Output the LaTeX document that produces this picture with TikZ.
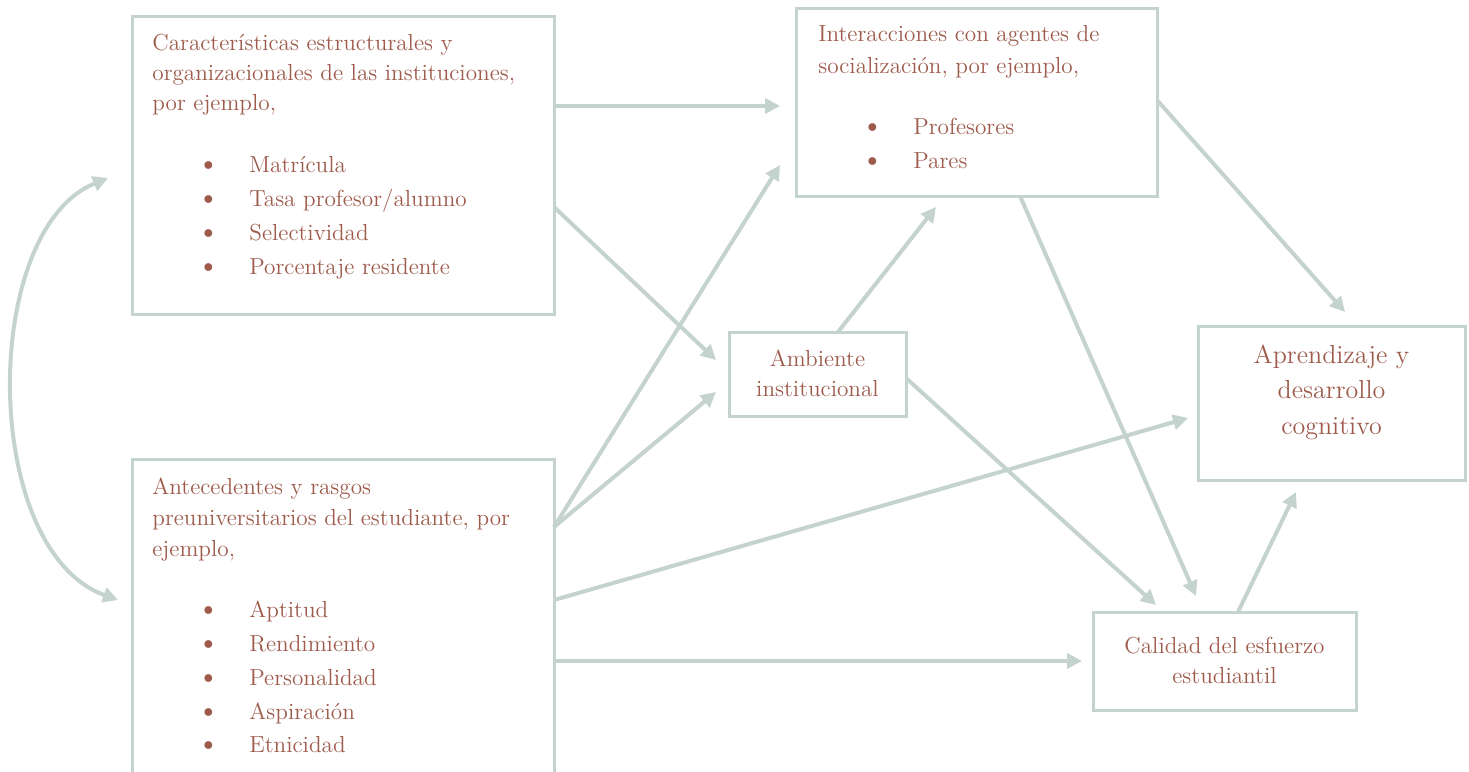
\documentclass[tikz,border=0pt]{standalone}
\usepackage{fontspec}
\usetikzlibrary{arrows.meta,calc}
\definecolor{edgec}{HTML}{C4D3CE}
\definecolor{txtc}{HTML}{9E5B4C}
\tikzset{
  box/.style={draw=edgec,line width=1.5pt,fill=white,inner sep=0pt,outer sep=0pt},
  txt/.style={text=txtc,inner sep=0pt,anchor=base west,font=\fontsize{11.6}{13}\selectfont},
  ctxt/.style={text=txtc,inner sep=0pt,anchor=base,font=\fontsize{11.6}{13}\selectfont},
  bigtxt/.style={text=txtc,inner sep=0pt,anchor=base,font=\fontsize{13}{15}\selectfont},
  arr/.style={draw=edgec,line width=2pt,-{Triangle[length=7.5pt,width=7.5pt]}},
  darr/.style={draw=edgec,line width=2pt,{Triangle[length=7.5pt,width=7.5pt]}-{Triangle[length=7.5pt,width=7.5pt]}}
}
\newcommand{\bul}{\makebox[26pt][l]{\scalebox{1.25}{\textbullet}}}
\begin{document}
\begin{tikzpicture}[x=0.5pt,y=-0.5pt]
\useasboundingbox (0,0) rectangle (1469,772);
% boxes
\node[box,minimum width=211pt,minimum height=149pt] (b1) at (343,165) {};
\node[box,minimum width=211pt,minimum height=170.5pt] (b2) at (343,629.5) {};
\node[box,minimum width=180.5pt,minimum height=94pt] (b3) at (976.5,102) {};
\node[box,minimum width=88.5pt,minimum height=42pt] (b4) at (817.5,374) {};
\node[box,minimum width=133.5pt,minimum height=77pt] (b5) at (1331.5,403) {};
\node[box,minimum width=131.5pt,minimum height=49pt] (b6) at (1224.5,661) {};
% texts box 1
\node[txt] (t11) at (152,50) {Características estructurales y};
\node[txt] (t12) at (152,80) {organizacionales de las instituciones,};
\node[txt] (t13) at (152,110) {por ejemplo,};
\node[txt] (t14) at (197,172) {\bul Matrícula};
\node[txt] (t15) at (197,206) {\bul Tasa profesor/alumno};
\node[txt] (t16) at (197,240) {\bul Selectividad};
\node[txt] (t17) at (197,274) {\bul Porcentaje residente};
% texts box 2
\node[txt] (t21) at (152,494) {Antecedentes y rasgos};
\node[txt] (t22) at (152,525) {preuniversitarios del estudiante, por};
\node[txt] (t23) at (152,556) {ejemplo,};
\node[txt] (t24) at (197,617) {\bul Aptitud};
\node[txt] (t25) at (197,651) {\bul Rendimiento};
\node[txt] (t26) at (197,685) {\bul Personalidad};
\node[txt] (t27) at (197,719) {\bul Aspiración};
\node[txt] (t28) at (197,752) {\bul Etnicidad};
% texts box 3
\node[txt] (t31) at (818,41) {Interacciones con agentes de};
\node[txt] (t32) at (818,73) {socialización, por ejemplo,};
\node[txt] (t33) at (861,134) {\bul Profesores};
\node[txt] (t34) at (861,168) {\bul Pares};
% box 4
\node[ctxt] (t41) at (817.5,366) {Ambiente};
\node[ctxt] (t42) at (817.5,396) {institucional};
% box 5
\node[bigtxt] (t51) at (1331.5,363) {Aprendizaje y};
\node[bigtxt] (t52) at (1331.5,398) {desarrollo};
\node[bigtxt] (t53) at (1331.5,434) {cognitivo};
% box 6
\node[ctxt] (t61) at (1224.5,653) {Calidad del esfuerzo};
\node[ctxt] (t62) at (1224.5,683) {estudiantil};
% connectors
\draw[arr] ($(b1.north east)+(0,90)$) -- ($(b3.west)+(-16,4)$);
\draw[arr] ($(b1.north east)+(0,191)$) -- ($(b4.west)+(-13,-14)$);
\draw[arr] ($(b2.north east)+(0,68)$) -- ($(b3.south west)+(-16,-31)$);
\draw[arr] ($(b2.north east)+(0,68)$) -- ($(b4.west)+(-13,18)$);
\draw[arr] ($(b2.north east)+(0,141)$) -- ($(b5.west)+(-10,15)$);
\draw[arr] ($(b2.north east)+(0,202)$) -- ($(b6.west)+(-11,0)$);
\draw[arr] ($(b4.north)+(20.5,0)$) -- ($(b3.south)+(-40.5,11)$);
\draw[arr] ($(b4.east)+(0,4)$) -- ($(b6.north west)+(63,-7)$);
\draw[arr] ($(b3.south)+(43.5,0)$) -- ($(b6.north)+(-28.5,-16)$);
\draw[arr] ($(b3.east)+(0,-2)$) -- ($(b5.north)+(13.5,-14)$);
\draw[arr] ($(b6.north)+(13.5,0)$) -- ($(b5.south)+(-35.5,12)$);
\coordinate (cA) at ($(b1.west)+(-24,13)$);
\coordinate (cB) at ($(b2.west)+(-14,-29.5)$);
\draw[darr] (cA) .. controls (-20,230) and (-20,550) .. (cB);
\end{tikzpicture}
\end{document}
